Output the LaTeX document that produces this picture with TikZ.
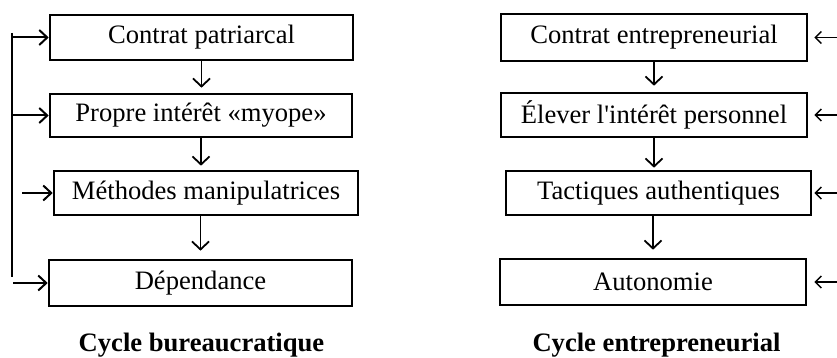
\documentclass[tikz,border=0pt]{standalone}
\usepackage{fontspec}
\setmainfont{Liberation Serif}
% same face without the TeX quote mapping, for a straight apostrophe
\newfontfamily\straightrm{Liberation Serif}
\usetikzlibrary{arrows.meta}

\tikzset{
  stage/.style={draw, line width=2.6pt, inner sep=0pt,
    font=\fontsize{26.6}{30}\selectfont},
  flow/.style={line width=1.8pt, -{Straight Barb[length=8pt,width=17pt,line width=1.8pt]}},
  feed/.style={line width=2pt, -{Straight Barb[length=8pt,width=15pt,line width=2pt]}},
  back/.style={line width=1.5pt, -{Straight Barb[length=6pt,width=12pt,line width=1.5pt]}},
  bus/.style={line width=2.4pt},
  caption/.style={anchor=base, font=\fontsize{26.6}{30}\selectfont\bfseries}
}

\begin{document}
\begin{tikzpicture}[x=1pt,y=1pt]
  \useasboundingbox (0,0) rectangle (837,-358);

  % Bureaucratic cycle
  \node[stage, minimum width=303pt, minimum height=45pt] (L1) at (201.5,-37.5) {Contrat patriarcal};
  \node[stage, minimum width=302pt, minimum height=43pt] (L2) at (201,-115.5) {Propre intérêt «myope»};
  \node[stage, minimum width=304pt, minimum height=44pt] (L3) at (206,-193) {Méthodes manipulatrices};
  \node[stage, minimum width=303pt, minimum height=46pt] (L4) at (200.5,-283) {Dépendance};

  \draw[flow, shorten >=5pt] (L1.south) -- (L1.south |- L2.north);
  \draw[flow, shorten >=4pt] (L2.south) -- (L2.south |- L3.north);
  \draw[flow, shorten >=8pt] (L3.south -| L4.north) -- (L4.north);

  % Feedback bus on the left
  \coordinate (busTop) at (12,-33);
  \coordinate (busBot) at (12,-277);
  \coordinate (tap3) at (22,0);
  \coordinate (tap4) at (13,0);
  \draw[bus] (busTop) -- (busBot);
  \draw[feed] (busTop |- L1.west) -- (L1.west);
  \draw[feed] (busTop |- L2.west) -- (L2.west);
  \draw[feed] (tap3 |- L3.west) -- (L3.west);
  \draw[feed] (tap4 |- L4.west) -- (L4.west);

  \node[caption] (capL) at (201.5,-351) {Cycle bureaucratique};

  % Entrepreneurial cycle
  \node[stage, minimum width=306pt, minimum height=47pt] (R1) at (654,-37.5) {Contrat entrepreneurial};
  \node[stage, minimum width=306pt, minimum height=44pt] (R2) at (654,-115) {Élever l{\straightrm'}intérêt personnel};
  \node[stage, minimum width=305pt, minimum height=44pt] (R3) at (658.5,-193) {Tactiques authentiques};
  \node[stage, minimum width=306pt, minimum height=46pt] (R4) at (653,-282) {Autonomie};

  \draw[flow, shorten >=6pt] (R1.south -| R2.north) -- (R2.north);
  \draw[flow, shorten >=2pt] (R2.south -| R2.north) -- (R2.north |- R3.north);
  \draw[flow, shorten >=8pt] (R3.south -| R4.north) -- (R4.north);

  % Incoming arrows on the right
  \coordinate (edge) at (837,0);
  \draw[back, shorten >=6pt] (edge |- R1.east) -- (R1.east);
  \draw[back, shorten >=6pt] (edge |- R2.east) -- (R2.east);
  \draw[back, shorten >=2pt] (edge |- R3.east) -- (R3.east);
  \draw[back, shorten >=7pt] (edge |- R4.east) -- (R4.east);

  \node[caption] (capR) at (656.5,-351) {Cycle entrepreneurial};
\end{tikzpicture}
\end{document}
